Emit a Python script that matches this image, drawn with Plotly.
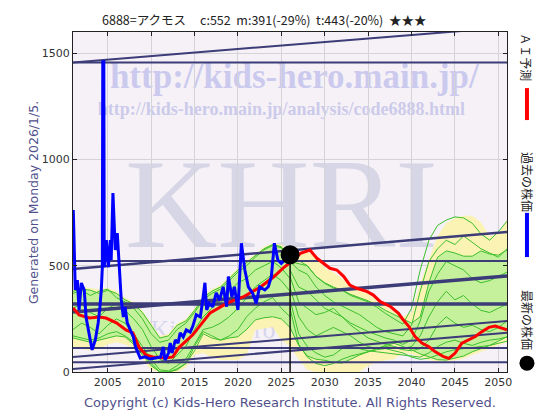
import plotly.graph_objects as go

# ---------------- data ----------------
past_years = [2001.00, 2001.03, 2001.10, 2001.26, 2001.50, 2001.70, 2001.96, 2002.30, 2002.50, 2003.00,
              2003.20, 2003.57, 2003.90, 2004.10, 2004.26, 2004.38, 2004.43, 2004.55, 2004.60, 2004.84,
              2005.07, 2005.30, 2005.40, 2005.60, 2005.87, 2006.10, 2006.33, 2006.56, 2006.80, 2007.00,
              2007.25, 2007.60, 2007.95, 2008.20, 2008.50, 2008.75, 2009.30, 2009.90, 2010.50, 2011.10,
              2011.40, 2011.60, 2012.00, 2012.20, 2012.40, 2012.80, 2013.10, 2013.35, 2013.70, 2014.05,
              2014.50, 2014.80, 2015.20, 2015.67, 2016.00, 2016.20, 2016.40, 2016.70, 2017.10, 2017.50,
              2017.90, 2018.30, 2018.70, 2018.90, 2019.30, 2019.60, 2020.00, 2020.40, 2020.80, 2021.20,
              2021.70, 2022.10, 2022.50, 2023.10, 2023.50, 2023.85, 2024.20, 2024.60, 2025.00, 2025.40,
              2025.80]
past_price = [682, 762, 654, 386, 433, 292, 419, 386, 259, 151,
              104, 151, 231, 306, 386, 494, 1460, 1460, 494, 621,
              494, 621, 527, 842, 574, 654, 494, 339, 259, 306,
              231, 198, 165, 118, 89, 66, 71, 61, 66, 71,
              118, 56, 89, 136, 89, 151, 136, 184, 165, 198,
              188, 215, 270, 259, 354, 420, 292, 323, 307, 372,
              339, 401, 307, 449, 354, 401, 292, 606, 480, 401,
              370, 323, 401, 386, 401, 449, 606, 527, 511, 527,
              520]

ai_years = [2001.0, 2001.7, 2002.9, 2004.0, 2004.8, 2006.0, 2007.1, 2007.9, 2008.6, 2009.4,
            2010.2, 2011.7, 2012.5, 2013.2, 2014.8, 2016.0, 2016.8, 2018.8, 2020.6, 2022.6,
            2024.1, 2025.2, 2026.4, 2027.2, 2028.3, 2029.1, 2029.9, 2030.6, 2031.4, 2032.2,
            2032.9, 2033.7, 2034.9, 2035.6, 2036.4, 2037.6, 2038.5, 2038.9, 2039.7, 2040.4,
            2041.2, 2042.0, 2042.7, 2043.7, 2044.3, 2045.0, 2045.8, 2046.6, 2047.35, 2048.1,
            2048.9, 2049.65, 2050.4, 2051.0]
ai_price = [301, 268, 254, 259, 254, 231, 198, 184, 118, 80,
            71, 66, 71, 115, 175, 235, 278, 325, 353, 400,
            447, 489, 527, 558, 574, 535, 511, 488, 480, 449,
            409, 394, 378, 362, 331, 307, 276, 253, 214, 167,
            136, 119, 96, 72, 64, 88, 136, 151, 167, 190,
            210, 216, 206, 198]

band_years = list(range(2001, 2052))
yellow_top = [390, 400, 395, 390, 395, 380, 350, 330, 290, 230,
              170, 180, 230, 250, 300, 360, 390, 410, 450, 490,
              525, 555, 590, 605, 600, 570, 560, 570, 540, 490,
              470, 440, 405, 385, 370, 335, 310, 285, 260, 280,
              420, 530, 640, 700, 725, 735, 735, 705, 640, 650,
              715]
yellow_bot = [120, 110, 100, 110, 130, 140, 130, 110, 60, 10,
              0, 0, 0, 20, 80, 90, 70, 56, 56, 56,
              80, 198, 205, 212, 150, 120, 60, 10, 0, 0,
              0, 0, 0, 0, 30, 45, 55, 60, 90, 85,
              70, 56, 50, 50, 55, 62, 80, 95, 110, 125,
              140]
green_top = [380, 390, 385, 370, 385, 370, 340, 320, 280, 220,
             160, 170, 220, 240, 290, 350, 380, 400, 440, 480,
             515, 546, 580, 600, 590, 520, 511, 500, 450, 417,
             395, 386, 365, 350, 335, 315, 290, 270, 250, 230,
             260, 420, 540, 570, 560, 545, 545, 570, 555, 550,
             574]
green_bot = [160, 150, 140, 150, 160, 170, 165, 130, 80, 30,
             0, 0, 10, 40, 120, 190, 170, 150, 160, 166,
             200, 245, 255, 260, 250, 210, 125, 75, 60, 55,
             45, 42, 60, 80, 95, 110, 125, 135, 120, 105,
             85, 72, 58, 56, 65, 75, 95, 110, 125, 145,
             166]

past_scen_years = list(range(2001, 2027))
past_scen = [
    [370, 385, 360, 380, 390, 350, 330, 300, 250, 180, 140, 150, 200, 230, 280, 340, 370, 390, 430, 470, 500, 540, 575, 595, 585, 530],
    [300, 320, 280, 260, 300, 320, 290, 250, 200, 120, 60, 40, 80, 120, 200, 260, 300, 340, 380, 420, 440, 480, 500, 520, 490, 440],
    [200, 230, 210, 180, 220, 250, 230, 180, 120, 60, 10, 5, 30, 60, 130, 200, 210, 230, 260, 300, 350, 400, 430, 460, 430, 380],
    [170, 160, 150, 160, 180, 190, 170, 140, 90, 40, 0, 0, 15, 40, 100, 180, 160, 150, 170, 200, 260, 300, 330, 350, 300, 260],
]

fut_scen_years = list(range(2026, 2052))
fut_scen = [
    [540, 525, 500, 450, 420, 400, 385, 360, 345, 330, 305, 275, 250, 225, 300, 480, 620, 690, 715, 730, 725, 700, 650, 620, 660, 710],
    [520, 480, 460, 400, 360, 330, 310, 290, 270, 240, 210, 190, 180, 170, 220, 380, 520, 580, 620, 600, 640, 610, 580, 560, 540, 580],
    [480, 400, 380, 340, 300, 280, 260, 230, 210, 190, 175, 160, 150, 130, 150, 240, 380, 460, 520, 500, 480, 440, 420, 430, 450, 470],
    [450, 330, 300, 270, 280, 300, 260, 220, 190, 160, 145, 130, 120, 110, 120, 170, 260, 330, 380, 340, 360, 320, 290, 280, 300, 320],
    [400, 260, 200, 170, 190, 210, 190, 170, 140, 120, 110, 120, 115, 105, 100, 110, 150, 220, 260, 230, 210, 220, 200, 190, 210, 240],
    [340, 180, 120, 90, 70, 80, 110, 120, 110, 100, 95, 90, 85, 80, 75, 70, 90, 120, 140, 150, 135, 125, 140, 150, 155, 165],
    [300, 130, 70, 40, 30, 40, 60, 75, 85, 95, 105, 110, 100, 90, 70, 60, 65, 80, 95, 105, 110, 115, 120, 125, 135, 145],
]

trend_years = [2001, 2051]
trend_start = [1457, 1457, 522, 485, 320, 282, 71, 14, 113, 46]
trend_end = [1457, 1622, 522, 659, 320, 452, 240, 185, 113, 46]
trend_width = [2, 2, 2, 2.5, 3.5, 3.5, 2, 2, 2, 2]

latest_year = 2026.01
latest_price = 552

x_ticks = [2005, 2010, 2015, 2020, 2025, 2030, 2035, 2040, 2045, 2050]
y_ticks = [0, 500, 1000, 1500]

# ---------------- figure ----------------
NAVY = "#3c3c78"
GREEN_LINE = "#3cbf2c"
fig = go.Figure()

# yellow band
fig.add_trace(go.Scatter(x=band_years, y=yellow_bot, mode="lines",
                         line=dict(color="rgba(0,0,0,0)", width=0), hoverinfo="skip"))
fig.add_trace(go.Scatter(x=band_years, y=yellow_top, mode="lines", fill="tonexty",
                         fillcolor="#fbf3b4", line=dict(color="rgba(0,0,0,0)", width=0), hoverinfo="skip"))
# green band
fig.add_trace(go.Scatter(x=band_years, y=green_bot, mode="lines",
                         line=dict(color=GREEN_LINE, width=1), hoverinfo="skip"))
fig.add_trace(go.Scatter(x=band_years, y=green_top, mode="lines", fill="tonexty",
                         fillcolor="#c6f19c", line=dict(color=GREEN_LINE, width=1), hoverinfo="skip"))
for s in past_scen:
    fig.add_trace(go.Scatter(x=past_scen_years, y=s, mode="lines",
                             line=dict(color=GREEN_LINE, width=1), hoverinfo="skip"))
for s in fut_scen:
    fig.add_trace(go.Scatter(x=fut_scen_years, y=s, mode="lines",
                             line=dict(color=GREEN_LINE, width=1), hoverinfo="skip"))

# trend lines
for y0, y1, w in zip(trend_start, trend_end, trend_width):
    fig.add_trace(go.Scatter(x=trend_years, y=[y0, y1], mode="lines",
                             line=dict(color=NAVY, width=w), hoverinfo="skip"))

# AI prediction
fig.add_trace(go.Scatter(x=ai_years, y=ai_price, mode="lines",
                         line=dict(color="#ff0000", width=3)))
# past price
fig.add_trace(go.Scatter(x=past_years, y=past_price, mode="lines",
                         line=dict(color="#0000ff", width=3)))
# latest
fig.add_trace(go.Scatter(x=[latest_year, latest_year], y=[0, latest_price], mode="lines",
                         line=dict(color="#111111", width=1.5)))
fig.add_trace(go.Scatter(x=[latest_year], y=[latest_price], mode="markers",
                         marker=dict(color="#000000", size=19)))

font_tick = dict(family="DejaVu Sans", size=11, color="#333333")
fig.update_xaxes(range=[2001, 2051], tickvals=x_ticks, showgrid=True, gridcolor="#d4d4d8",
                 gridwidth=1, showline=True, linecolor="#222222", mirror="ticks",
                 ticks="inside", ticklen=4, tickcolor="#222222", tickfont=font_tick,
                 zeroline=False)
fig.update_yaxes(range=[0, 1600], tickvals=y_ticks, showgrid=True, gridcolor="#d4d4d8",
                 gridwidth=1, showline=True, linecolor="#222222", mirror="ticks",
                 ticks="inside", ticklen=4, tickcolor="#222222", tickfont=font_tick,
                 zeroline=False)

wm = "Liberation Serif"
shapes = [
    dict(type="rect", xref="paper", yref="paper", x0=0.2, x1=0.82, y0=0.835, y1=0.925,
         line=dict(width=0), fillcolor="rgba(0,0,0,0)", layer="below",
         label=dict(text="<b>http://kids-hero.main.jp/</b>", textposition="middle center",
                    font=dict(family=wm, size=35, color="rgba(185,185,235,0.7)"))),
    dict(type="rect", xref="paper", yref="paper", x0=0.2, x1=0.76, y0=0.75, y1=0.81,
         line=dict(width=0), fillcolor="rgba(0,0,0,0)", layer="below",
         label=dict(text="<b>http://kids-hero.main.jp/analysis/code6888.html</b>", textposition="middle center",
                    font=dict(family=wm, size=18, color="rgba(185,185,230,0.7)"))),
    dict(type="rect", xref="paper", yref="paper", x0=0.13, x1=0.83, y0=0.41, y1=0.66,
         line=dict(width=0), fillcolor="rgba(0,0,0,0)", layer="below",
         label=dict(text="KHRI", textposition="middle center",
                    font=dict(family=wm, size=128, color="rgba(208,208,226,0.8)"))),
    dict(type="rect", xref="paper", yref="paper", x0=0.1, x1=0.5, y0=0.1, y1=0.17,
         line=dict(width=0), fillcolor="rgba(0,0,0,0)", layer="below",
         label=dict(text="©Kids@Hero", textposition="middle center",
                    font=dict(family=wm, size=26, color="rgba(190,190,230,0.55)"))),
    # legend swatches
    dict(type="line", xref="paper", yref="paper", x0=1.046, x1=1.046, y0=0.741, y1=0.835,
         line=dict(color="#ff0000", width=4)),
    dict(type="line", xref="paper", yref="paper", x0=1.046, x1=1.046, y0=0.338, y1=0.468,
         line=dict(color="#0000ff", width=4)),
    dict(type="circle", xref="paper", yref="paper", x0=1.046 - 0.0173, x1=1.046 + 0.0173,
         y0=0.026 - 0.022, y1=0.026 + 0.022, fillcolor="#000000", line=dict(color="#000000", width=0)),
]

nb = "\u00a0"
title = f"6888=アクモス{nb*5}c:552{nb*2}m:391(-29%){nb*2}t:443(-20%){nb*2}★★★"
jp = "Noto Sans CJK JP"
annotations = [
    dict(text=title, xref="paper", yref="paper", x=0.442, y=1.038, showarrow=False,
         font=dict(family=jp, size=12.5, color="#222222"), xanchor="center", yanchor="middle"),
    dict(text="Generated on Monday 2026/1/5.", xref="paper", yref="paper", x=-0.092, y=0.497,
         showarrow=False, textangle=-90, font=dict(family="DejaVu Sans", size=12.5, color="#50508c"),
         xanchor="center", yanchor="middle"),
    dict(text="Copyright (c) Kids-Hero Research Institute. All Rights Reserved.", xref="paper",
         yref="paper", x=0.5, y=-0.091, showarrow=False,
         font=dict(family="DejaVu Sans", size=13, color="#50508c"), xanchor="center", yanchor="middle"),
    dict(text="ＡＩ予測", xref="paper", yref="paper", x=1.046, y=0.926, showarrow=False, textangle=90,
         font=dict(family=jp, size=12, color="#222222"), xanchor="center", yanchor="middle"),
    dict(text="過去の株価", xref="paper", yref="paper", x=1.046, y=0.559, showarrow=False, textangle=90,
         font=dict(family=jp, size=12, color="#222222"), xanchor="center", yanchor="middle"),
    dict(text="最新の株価", xref="paper", yref="paper", x=1.046, y=0.153, showarrow=False, textangle=90,
         font=dict(family=jp, size=12, color="#222222"), xanchor="center", yanchor="middle"),
]

# The page adds an 8px body margin, so the figure is 8px smaller and offset accordingly.
fig.update_layout(width=552, height=412, autosize=False,
                  margin=dict(l=65, r=53, t=24, b=48, pad=0),
                  plot_bgcolor="#f5f1f6", paper_bgcolor="#ffffff",
                  showlegend=False, hovermode=False,
                  shapes=shapes, annotations=annotations)

fig.write_html("out.html")
